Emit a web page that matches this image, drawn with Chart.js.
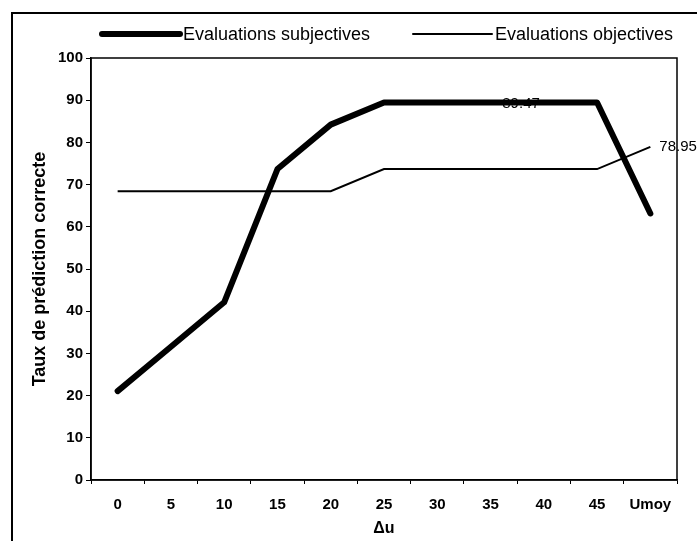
<!DOCTYPE html>
<html>
<head>
<meta charset="utf-8">
<script src="https://cdn.jsdelivr.net/npm/chart.js@4"></script>
<style>
  html, body { margin: 0; padding: 0; background: #fff; }
  #wrap { position: relative; width: 697px; height: 541px; overflow: hidden; }
  #frame { position: absolute; left: 11px; top: 12px; width: 720px; height: 560px; border: 2px solid #000; box-sizing: border-box; }
  canvas { position: absolute; left: 0; top: 0; }
</style>
</head>
<body>
<div id="wrap">
  <div id="frame"></div>
  <canvas id="myChart" width="697" height="541"></canvas>
</div>
<script>
// values

var categories = ["0", "5", "10", "15", "20", "25", "30", "35", "40", "45", "Umoy"];
var subjectives = [21.05, 31.58, 42.11, 73.68, 84.21, 89.47, 89.47, 89.47, 89.47, 89.47, 63.16];
var objectives = [68.42, 68.42, 68.42, 68.42, 68.42, 73.68, 73.68, 73.68, 73.68, 73.68, 78.95];
var yTicks = [0, 10, 20, 30, 40, 50, 60, 70, 80, 90, 100];

var fontName = "'Liberation Sans', Arial, sans-serif";

// box round the plot area
var plotBorder = {
  id: 'plotBorder',
  afterDraw: function (chart) {
    var a = chart.chartArea, ctx = chart.ctx;
    ctx.save();
    ctx.strokeStyle = '#000';
    ctx.lineWidth = 1.5;
    ctx.strokeRect(a.left, a.top, a.right - a.left, a.bottom - a.top);
    ctx.restore();
  }
};

// legend line + text, Excel style
var lineLegend = {
  id: 'lineLegend',
  afterDraw: function (chart) {
    var ctx = chart.ctx;
    var spots = [[102, 180], [413, 492]];
    ctx.save();
    ctx.font = "18px " + fontName;
    ctx.fillStyle = '#000';
    ctx.textBaseline = 'middle';
    chart.data.datasets.forEach(function (ds, i) {
      var y = 34;
      ctx.beginPath();
      ctx.lineWidth = ds.borderWidth;
      ctx.lineCap = 'round';
      ctx.strokeStyle = ds.borderColor;
      ctx.moveTo(spots[i][0], y);
      ctx.lineTo(spots[i][1], y);
      ctx.stroke();
      ctx.fillText(ds.label, spots[i][1] + 3, y + 1);
    });
    ctx.restore();
  }
};

// the two value labels
var valueLabels = {
  id: 'valueLabels',
  afterDatasetsDraw: function (chart) {
    var ctx = chart.ctx;
    ctx.save();
    ctx.font = "15px " + fontName;
    ctx.fillStyle = '#000';
    ctx.textBaseline = 'middle';
    var p = chart.getDatasetMeta(0).data[8];
    ctx.textAlign = 'right';
    ctx.fillText(subjectives[8].toFixed(2), p.x - 4, p.y + 1);
    var q = chart.getDatasetMeta(1).data[10];
    ctx.textAlign = 'left';
    ctx.fillText(objectives[10].toFixed(2), q.x + 9, q.y);
    ctx.restore();
  }
};

var ctx = document.getElementById("myChart");
var myChart = new Chart(ctx, {
  type: 'line',
  data: {
    labels: categories,
    datasets: [
      {
        label: "Evaluations subjectives",
        data: subjectives,
        borderColor: "#000",
        borderWidth: 6,
        borderCapStyle: 'round',
        borderJoinStyle: 'round',
        pointRadius: 0,
        fill: false,
        tension: 0
      },
      {
        label: "Evaluations objectives",
        data: objectives,
        borderColor: "#000",
        borderWidth: 2,
        pointRadius: 0,
        fill: false,
        tension: 0
      }
    ]
  },
  options: {
    responsive: false,
    animation: false,
    layout: { padding: { left: 0, top: 58, right: 20, bottom: 0 } },
    plugins: {
      legend: { display: false },
      tooltip: { enabled: false }
    },
    scales: {
      x: {
        type: 'category',
        offset: true,
        afterFit: function (s) { s.height = 61; },
        grid: { offset: true, drawOnChartArea: false, drawTicks: true, tickLength: 4, color: '#000', lineWidth: 1 },
        border: { display: true, color: '#000', width: 1.5 },
        ticks: { color: '#000', padding: 12, maxRotation: 0, font: { family: fontName, size: 15, weight: 'bold' } },
        title: { display: true, text: 'Δu', color: '#000', padding: { top: 0, bottom: 3 }, font: { family: fontName, size: 16, weight: 'bold' } }
      },
      y: {
        min: 0,
        max: 100,
        afterFit: function (s) { s.width = 91; },
        afterBuildTicks: function (s) { s.ticks = yTicks.map(function (v) { return { value: v }; }); },
        grid: { drawOnChartArea: false, drawTicks: true, tickLength: 5, color: '#000', lineWidth: 1 },
        border: { display: true, color: '#000', width: 1.5 },
        ticks: { color: '#000', padding: 3, font: { family: fontName, size: 15, weight: 'bold' } },
        title: { display: true, text: 'Taux de prédiction correcte', color: '#000', padding: { top: 29, bottom: 0 }, font: { family: fontName, size: 18, weight: 'bold' } }
      }
    }
  },
  plugins: [plotBorder, lineLegend, valueLabels]
});
</script>
</body>
</html>
